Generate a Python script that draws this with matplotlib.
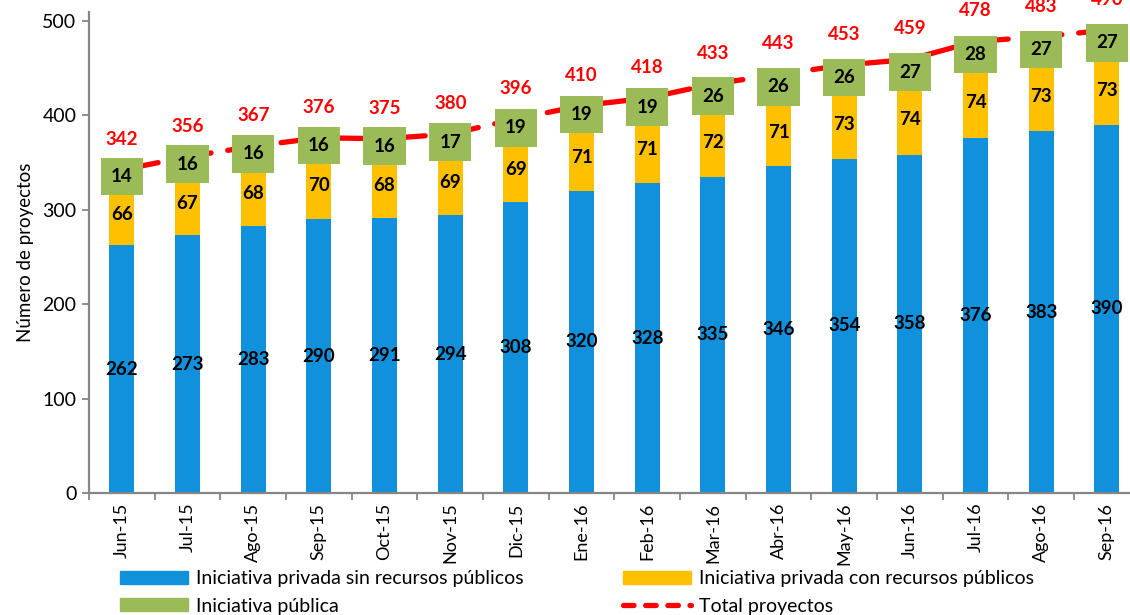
import numpy as np
import matplotlib
matplotlib.use("Agg")
import matplotlib.pyplot as plt
from matplotlib.patches import Patch
from matplotlib.lines import Line2D

plt.rcParams['font.family'] = ['Lato', 'DejaVu Sans']

# ── data ─────────────────────────────────────────────────────────────
meses = ['Jun-15', 'Jul-15', 'Ago-15', 'Sep-15', 'Oct-15', 'Nov-15', 'Dic-15', 'Ene-16',
         'Feb-16', 'Mar-16', 'Abr-16', 'May-16', 'Jun-16', 'Jul-16', 'Ago-16', 'Sep-16']
privada_sin = [262, 273, 283, 290, 291, 294, 308, 320, 328, 335, 346, 354, 358, 376, 383, 390]
privada_con = [66, 67, 68, 70, 68, 69, 69, 71, 71, 72, 71, 73, 74, 74, 73, 73]
publica     = [14, 16, 16, 16, 16, 17, 19, 19, 19, 26, 26, 26, 27, 28, 27, 27]
total       = [342, 356, 367, 376, 375, 380, 396, 410, 418, 433, 443, 453, 459, 478, 483, 490]

c_blue, c_orange, c_green, c_red = '#1190DB', '#FFC000', '#9BBB59', '#FF0000'
c_axis = '#868686'

x = np.arange(len(meses))
s1 = np.array(privada_sin)
s2 = np.array(privada_con)
s3 = np.array(publica)

fig = plt.figure(figsize=(11.3, 6.15), dpi=100)
ax = fig.add_axes([0.0788, 0.1984, 0.9298, 0.7826])

w = 0.38
ax.bar(x, s1, w, color=c_blue, zorder=2)
ax.bar(x, s2, w, bottom=s1, color=c_orange, zorder=2)
ax.bar(x, s3, w, bottom=s1 + s2, color=c_green, zorder=2)
ax.plot(x, total, color=c_red, lw=3.8, dashes=(7, 3.2), dash_capstyle='round', zorder=3)

lab = dict(ha='center', va='center', fontsize=13.5, fontweight='bold', color='black')
for i in x:
    ax.text(i, s1[i] / 2, str(s1[i]), zorder=4, **lab)
    ax.text(i, s1[i] + s2[i] / 2, str(s2[i]), zorder=4, **lab)
    ax.text(i, s1[i] + s2[i] + s3[i] / 2, str(s3[i]), zorder=5,
            bbox=dict(boxstyle='square,pad=0.55', fc=c_green, ec='none'), **lab)
    ax.annotate(str(total[i]), (i, total[i]), xytext=(0, 22), textcoords='offset points',
                ha='center', va='center', fontsize=13.5, fontweight='bold', color=c_red, zorder=6)

ax.set_xlim(-0.5, len(meses) - 0.5)
ax.set_ylim(0, 509.5)
ax.set_yticks([0, 100, 200, 300, 400, 500])
ax.set_xticks(np.arange(len(meses) + 1) - 0.5)
ax.set_xticklabels([])
ax.set_xticks(x, minor=True)
ax.set_xticklabels(meses, minor=True, rotation=90, fontsize=13)
ax.tick_params(axis='x', which='major', length=5, width=1.3, color=c_axis, direction='out')
ax.tick_params(axis='x', which='minor', length=0, pad=7)
ax.tick_params(axis='y', length=5, width=1.3, color=c_axis, labelsize=14, pad=4)
for s in ['top', 'right']:
    ax.spines[s].set_visible(False)
for s in ['left', 'bottom']:
    ax.spines[s].set_color(c_axis)
    ax.spines[s].set_linewidth(1.6)
ax.set_ylabel('Número de proyectos', fontsize=13.5, labelpad=6)

handles = [Patch(color=c_blue), Patch(color=c_green), Patch(color=c_orange),
           Line2D([0], [0], color=c_red, lw=3.8, dashes=(2.0, 2.2), dash_capstyle='round')]
names = ['Iniciativa privada sin recursos públicos', 'Iniciativa pública',
         'Iniciativa privada con recursos públicos', 'Total proyectos']
fig.legend(handles, names, ncol=2, loc='upper left', bbox_to_anchor=(0.106, 0.073),
           frameon=False, fontsize=14, handlelength=3.5, handleheight=0.65,
           labelspacing=0.55, columnspacing=5.1, handletextpad=0.42, borderpad=0,
           borderaxespad=0)

fig.savefig('out.png', dpi=100)
